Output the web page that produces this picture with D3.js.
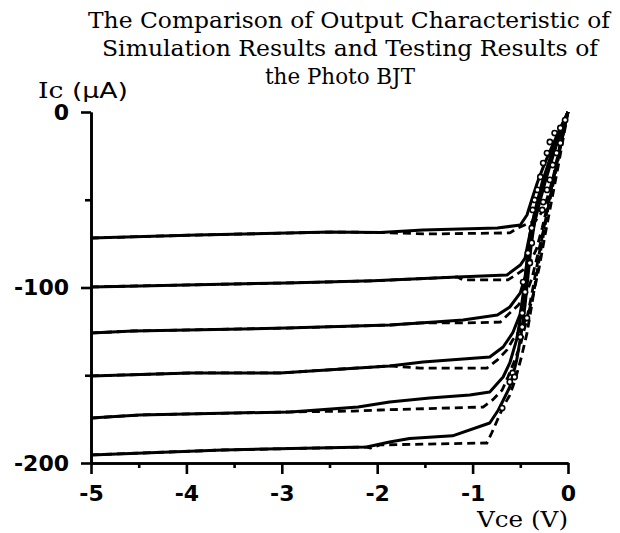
<!DOCTYPE html>
<html>
<head>
<meta charset="utf-8">
<script src="https://cdn.jsdelivr.net/npm/d3@7"></script>
<style>
    body { margin: 0; background: #fff; }
    svg { display: block; }
</style>
</head>
<body>
<div id="chart"></div>
<script>
// Simulation curves (solid), [Vce (V), Ic (uA)]
const sim1 = [[-5,-71.8],[-3.89,-70.1],[-2.49,-68.4],[-1.97,-68.6],[-1.52,-67.2],[-0.74,-66.1],[-0.5,-64.4],[-0.43,-58.7],[-0.38,-50],[-0.32,-40],[-0.25,-30],[-0.17,-20],[-0.08,-9],[0,0]];
const sim2 = [[-5,-99.7],[-4.49,-99.1],[-2.95,-97.4],[-2.04,-96.2],[-1.16,-94],[-0.64,-92.9],[-0.5,-87.2],[-0.45,-83.2],[-0.42,-75],[-0.37,-62],[-0.3,-48],[-0.22,-34],[-0.12,-18],[-0.05,-7],[0,0]];
const sim3 = [[-5,-125.9],[-4.56,-124.8],[-2.95,-123.1],[-1.87,-121.4],[-1.55,-120.2],[-1.1,-118.5],[-0.74,-115.7],[-0.61,-111.1],[-0.5,-103.1],[-0.45,-94],[-0.42,-80],[-0.38,-66],[-0.32,-52],[-0.25,-38],[-0.16,-24],[-0.07,-10],[0,0]];
const sim4 = [[-5,-150.4],[-3.96,-148.7],[-3.02,-148.7],[-1.87,-144.7],[-1.52,-142.5],[-0.82,-139.6],[-0.68,-133.9],[-0.58,-125.9],[-0.5,-115],[-0.46,-100],[-0.43,-86],[-0.4,-70],[-0.34,-55],[-0.27,-40],[-0.18,-25],[-0.08,-10],[0,0]];
const sim5 = [[-5,-174.4],[-4.49,-172.6],[-2.91,-170.9],[-2.2,-168.1],[-1.87,-165.2],[-1.45,-163],[-1.03,-161.3],[-0.82,-159.5],[-0.68,-151],[-0.61,-143],[-0.54,-130],[-0.49,-115],[-0.45,-100],[-0.42,-85],[-0.38,-70],[-0.31,-54],[-0.23,-38],[-0.14,-22],[-0.06,-8],[0,0]];
const sim6 = [[-5,-195.4],[-3.62,-192.6],[-2.11,-190.9],[-1.87,-188],[-1.66,-186],[-1.21,-184.5],[-0.82,-177.2],[-0.73,-169.8],[-0.61,-156.7],[-0.54,-142],[-0.49,-126],[-0.45,-110],[-0.42,-94],[-0.39,-78],[-0.35,-62],[-0.28,-46],[-0.2,-30],[-0.1,-14],[0,0]];

// Testing curves (dashed)
const test1 = [[-5,-71.8],[-3.89,-70.1],[-2.49,-68.4],[-1.97,-68.6],[-1.48,-69.5],[-0.61,-68.9],[-0.52,-66],[-0.44,-64],[-0.34,-62],[-0.26,-56],[-0.2,-46],[-0.15,-36],[-0.09,-22],[-0.04,-10],[0,0]];
const test2 = [[-5,-99.7],[-4.49,-99.1],[-2.95,-97.4],[-2.04,-96.2],[-1.16,-94],[-1.1,-95.7],[-0.63,-95.7],[-0.55,-93],[-0.47,-90],[-0.4,-86],[-0.33,-78],[-0.27,-66],[-0.21,-52],[-0.15,-38],[-0.08,-20],[0,0]];
const test3 = [[-5,-125.9],[-4.56,-124.8],[-2.95,-123.1],[-1.87,-121.4],[-1.55,-120.2],[-1.1,-120.2],[-0.71,-119.7],[-0.61,-114.5],[-0.52,-110],[-0.44,-104],[-0.38,-95],[-0.32,-82],[-0.26,-68],[-0.19,-50],[-0.12,-32],[-0.05,-12],[0,0]];
const test4 = [[-5,-150.4],[-3.96,-148.7],[-3.02,-148.7],[-1.87,-144.7],[-1.55,-145.9],[-0.85,-145.9],[-0.74,-141.3],[-0.64,-135.6],[-0.58,-129.9],[-0.5,-124],[-0.42,-116],[-0.36,-103],[-0.3,-88],[-0.24,-70],[-0.17,-50],[-0.1,-30],[-0.04,-12],[0,0]];
const test5 = [[-5,-174.4],[-4.49,-172.6],[-2.91,-170.9],[-2.25,-170.4],[-1.97,-169.8],[-0.89,-168.1],[-0.79,-164.1],[-0.69,-158.4],[-0.63,-151],[-0.57,-143],[-0.5,-133],[-0.44,-120],[-0.38,-104],[-0.32,-86],[-0.26,-68],[-0.19,-48],[-0.12,-28],[-0.05,-10],[0,0]];
const test6 = [[-5,-195.4],[-3.62,-192.6],[-2.11,-190.9],[-2.07,-191.5],[-1.97,-189.7],[-0.85,-188.6],[-0.8,-182.9],[-0.74,-175.5],[-0.68,-168.1],[-0.61,-161.3],[-0.55,-152],[-0.49,-140],[-0.43,-126],[-0.38,-110],[-0.33,-93],[-0.27,-74],[-0.21,-55],[-0.14,-35],[-0.07,-16],[0,0]];

// Measured points (open circles) along the saturation region
const testPoints = [[-0.03,-4.6],[-0.08,-9.1],[-0.14,-12],[-0.08,-17.7],[-0.19,-17.1],[-0.22,-23.4],[-0.12,-23.4],
    [-0.26,-29.1],[-0.16,-30.2],[-0.29,-37],[-0.19,-38.7],[-0.32,-44.4],[-0.22,-44.4],[-0.35,-50.1],[-0.26,-51.3],
    [-0.37,-55.8],[-0.27,-55.8],[-0.38,-66.1],[-0.38,-74.6],[-0.42,-80.3],[-0.4,-86],[-0.47,-96.9],[-0.45,-102.6],
    [-0.48,-114.5],[-0.43,-117.4],[-0.48,-122.5],[-0.5,-128.2],[-0.58,-148.7],[-0.56,-151],[-0.61,-153.8],[-0.69,-168.7]];

const xTicks = [-5, -4, -3, -2, -1, 0];
const xMinorTicks = [-4.5, -3.5, -2.5, -1.5, -0.5];
const yTicks = [-200, -100, 0];
const yMinorTicks = [-150, -50];
const titleLines = [
    "The Comparison of Output Characteristic of",
    "Simulation Results and Testing Results of",
    "the Photo BJT"
];

const width = 620, height = 533;
const plot = { left: 91, right: 568, top: 112, bottom: 463 };

const svg = d3.select("#chart")
    .append("svg")
    .attr("width", width)
    .attr("height", height);

const x = d3.scaleLinear().domain([-5, 0]).range([plot.left, plot.right]);
const y = d3.scaleLinear().domain([-200, 0]).range([plot.bottom, plot.top]);

// Title, three centred lines
const titleX = [349, 350, 340];
const titleLen = [522, 496, 150];
const titleY = [28, 56, 84];
svg.selectAll(".title")
    .data(titleLines)
    .enter()
    .append("text")
    .attr("class", "title")
    .attr("x", (d, i) => titleX[i])
    .attr("y", (d, i) => titleY[i])
    .attr("text-anchor", "middle")
    .attr("textLength", (d, i) => titleLen[i])
    .attr("lengthAdjust", "spacingAndGlyphs")
    .style("font-family", "'DejaVu Serif', serif")
    .style("font-size", "23px")
    .text((d) => d);

// Axes
const axisStyle = (g) => {
    g.select(".domain").attr("stroke", "#000").attr("stroke-width", 2.6);
    g.selectAll(".tick line").attr("stroke", "#000").attr("stroke-width", 2.6);
    g.selectAll(".tick text")
        .style("font-family", "'DejaVu Sans', sans-serif")
        .style("font-size", "22px")
        .style("font-weight", "bold")
        .attr("fill", "#000");
};

svg.append("g")
    .attr("transform", `translate(0,${plot.bottom})`)
    .call(d3.axisBottom(x).tickValues(xMinorTicks).tickSize(5).tickSizeOuter(0).tickFormat(""))
    .call(axisStyle);

svg.append("g")
    .attr("transform", `translate(0,${plot.bottom})`)
    .call(d3.axisBottom(x).tickValues(xTicks).tickSize(11).tickSizeOuter(0).tickPadding(11)
        .tickFormat((d) => String(d)))
    .call(axisStyle);

svg.append("g")
    .attr("transform", `translate(${plot.left},0)`)
    .call(d3.axisLeft(y).tickValues(yMinorTicks).tickSize(6).tickSizeOuter(0).tickFormat(""))
    .call(axisStyle);

svg.append("g")
    .attr("transform", `translate(${plot.left},0)`)
    .call(d3.axisLeft(y).tickValues(yTicks).tickSize(10).tickSizeOuter(0).tickPadding(12)
        .tickFormat((d) => String(d)))
    .call(axisStyle);

// Axis labels
const yLabel = svg.append("text")
    .attr("x", 38)
    .attr("y", 98)
    .attr("textLength", 90)
    .attr("lengthAdjust", "spacingAndGlyphs")
    .style("font-size", "22px");
yLabel.append("tspan").style("font-family", "'DejaVu Serif', serif").text("Ic");
yLabel.append("tspan").style("font-family", "'DejaVu Sans', sans-serif").text(" (\u00b5A)");

svg.append("text")
    .attr("x", 477)
    .attr("y", 527)
    .attr("textLength", 91)
    .attr("lengthAdjust", "spacingAndGlyphs")
    .style("font-family", "'DejaVu Serif', serif")
    .style("font-size", "23px")
    .text("Vce (V)");

// Curves
const line = d3.line()
    .x((d) => x(d[0]))
    .y((d) => y(d[1]));

const simCurves = [sim1, sim2, sim3, sim4, sim5, sim6];
const testCurves = [test1, test2, test3, test4, test5, test6];

svg.selectAll(".test")
    .data(testCurves)
    .enter()
    .append("path")
    .attr("class", "test")
    .attr("fill", "none")
    .attr("stroke", "#000")
    .attr("stroke-width", 2.8)
    .attr("stroke-dasharray", "8,5")
    .attr("d", line);

svg.selectAll(".sim")
    .data(simCurves)
    .enter()
    .append("path")
    .attr("class", "sim")
    .attr("fill", "none")
    .attr("stroke", "#000")
    .attr("stroke-width", 3)
    .attr("stroke-linejoin", "round")
    .attr("d", line);

svg.selectAll(".pt")
    .data(testPoints)
    .enter()
    .append("circle")
    .attr("class", "pt")
    .attr("cx", (d) => x(d[0]))
    .attr("cy", (d) => y(d[1]))
    .attr("r", 2.6)
    .attr("fill", "#fff")
    .attr("stroke", "#000")
    .attr("stroke-width", 1.6);
</script>
</body>
</html>
